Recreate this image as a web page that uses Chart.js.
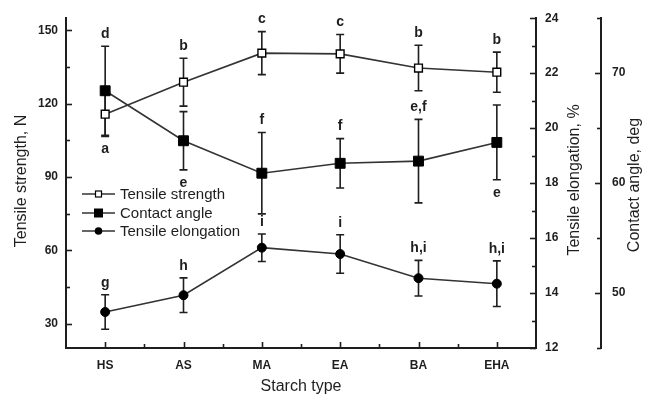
<!DOCTYPE html>
<html><head><meta charset="utf-8">
<script src="https://cdn.jsdelivr.net/npm/chart.js@4"></script>
<style>html,body{margin:0;padding:0;background:#fff}</style>
</head><body>
<canvas id="c" width="647" height="400" style="width:647px;height:400px;display:block"></canvas>
<script>
const categories = ['HS', 'AS', 'MA', 'EA', 'BA', 'EHA'];
const tensileStrength = [115.7, 128.8, 140.7, 140.4, 134.6, 132.9];
const tensileStrengthErr = [9.1, 9.8, 8.8, 7.9, 9.3, 8.2];
const contactAngle = [68.4, 63.85, 60.9, 61.8, 62.0, 63.7];
const contactAngleErr = [4.05, 2.65, 3.7, 2.25, 3.8, 3.4];
const tensileElongation = [13.31, 13.92, 15.65, 15.42, 14.54, 14.34];
const tensileElongationErr = [0.63, 0.63, 0.5, 0.7, 0.65, 0.83];
const tsLetters = ['a', 'b', 'c', 'c', 'b', 'b'];
const tsLetterSide = ['below', 'above', 'above', 'above', 'above', 'above'];
const caLetters = ['d', 'e', 'f', 'f', 'e,f', 'e'];
const caLetterSide = ['above', 'below', 'above', 'above', 'above', 'below'];
const teLetters = ['g', 'h', 'i', 'i', 'h,i', 'h,i'];
const teLetterSide = ['above', 'above', 'above', 'above', 'above', 'above'];
const strengthTicks = [30, 60, 90, 120, 150];
const strengthMinor = [45, 75, 105, 135];
const elongationTicks = [12, 14, 16, 18, 20, 22, 24];
const elongationMinor = [13, 15, 17, 19, 21, 23];
const angleTicks = [50, 60, 70];
const angleMinor = [45, 55, 65, 75];

const FONT = "'Liberation Sans', Arial, sans-serif";
const INK = '#1e1e1e';

const pts = arr => arr.map((v, i) => ({x: i, y: v}));

const errInfo = [
  {vals: tensileStrength, err: tensileStrengthErr, letters: tsLetters, side: tsLetterSide},
  {vals: contactAngle, err: contactAngleErr, letters: caLetters, side: caLetterSide},
  {vals: tensileElongation, err: tensileElongationErr, letters: teLetters, side: teLetterSide}
];

const extras = {
  id: 'extras',
  beforeDatasetsDraw(chart) {
    const ctx = chart.ctx;
    const xs = chart.scales.x;
    ctx.save();
    ctx.strokeStyle = INK;
    ctx.lineWidth = 1.6;
    chart.data.datasets.forEach((ds, di) => {
      const ys = chart.scales[ds.yAxisID];
      const info = errInfo[di];
      info.vals.forEach((v, i) => {
        const x = xs.getPixelForValue(i);
        const yt = ys.getPixelForValue(v + info.err[i]);
        const yb = ys.getPixelForValue(v - info.err[i]);
        ctx.beginPath();
        ctx.moveTo(x, yt); ctx.lineTo(x, yb);
        ctx.moveTo(x - 4, yt); ctx.lineTo(x + 4, yt);
        ctx.moveTo(x - 4, yb); ctx.lineTo(x + 4, yb);
        ctx.stroke();
      });
    });
    ctx.restore();
  },
  afterDatasetsDraw(chart) {
    const ctx = chart.ctx;
    const xs = chart.scales.x;
    const area = chart.chartArea;
    ctx.save();
    // letters
    ctx.fillStyle = INK;
    ctx.font = 'bold 14px ' + FONT;
    ctx.textAlign = 'center';
    ctx.textBaseline = 'middle';
    chart.data.datasets.forEach((ds, di) => {
      const ys = chart.scales[ds.yAxisID];
      const info = errInfo[di];
      info.vals.forEach((v, i) => {
        const x = xs.getPixelForValue(i);
        let y;
        if (info.side[i] === 'above') y = ys.getPixelForValue(v + info.err[i]) - 12;
        else y = ys.getPixelForValue(v - info.err[i]) + 13;
        ctx.fillText(info.letters[i], x, y);
      });
    });
    // tick marks (inward)
    ctx.strokeStyle = INK;
    ctx.lineWidth = 1.6;
    const yl = chart.scales.y, y1 = chart.scales.y1, y2 = chart.scales.y2;
    const hTick = (sc, xEdge, dir, vals, len) => {
      vals.forEach(v => {
        const y = Math.round(sc.getPixelForValue(v)) + 0.5;
        ctx.beginPath(); ctx.moveTo(xEdge, y); ctx.lineTo(xEdge + dir * len, y); ctx.stroke();
      });
    };
    hTick(yl, yl.right, 1, strengthTicks, 6);
    hTick(yl, yl.right, 1, strengthMinor, 4);
    hTick(y1, y1.left, -1, elongationTicks, 6);
    hTick(y1, y1.left, -1, elongationMinor, 4);
    hTick(y2, y2.left, -1, angleTicks, 6);
    hTick(y2, y2.left, -1, angleMinor, 4);
    categories.forEach((c, i) => {
      const x = Math.round(xs.getPixelForValue(i)) + 0.5;
      ctx.beginPath(); ctx.moveTo(x, xs.top); ctx.lineTo(x, xs.top - 6); ctx.stroke();
      if (i < categories.length - 1) {
        const xm = Math.round(xs.getPixelForValue(i + 0.5)) + 0.5;
        ctx.beginPath(); ctx.moveTo(xm, xs.top); ctx.lineTo(xm, xs.top - 4); ctx.stroke();
      }
    });
    // axis titles
    ctx.fillStyle = INK;
    ctx.font = '16px ' + FONT;
    ctx.textAlign = 'center';
    ctx.textBaseline = 'middle';
    ctx.fillText('Starch type', (area.left + area.right) / 2, 387);
    const vText = (t, x, y) => {
      ctx.save(); ctx.translate(x, y); ctx.rotate(-Math.PI / 2); ctx.fillText(t, 0, 0); ctx.restore();
    };
    vText('Tensile strength, N', 22, 181);
    vText('Tensile elongation, %', 575, 180);
    vText('Contact angle, deg', 635, 185);
    // legend
    const rows = [
      {label: chart.data.datasets[0].label, y: 194, kind: 'open'},
      {label: chart.data.datasets[1].label, y: 213, kind: 'filled'},
      {label: chart.data.datasets[2].label, y: 231, kind: 'circle'}
    ];
    ctx.font = '15px ' + FONT;
    ctx.textAlign = 'left';
    rows.forEach(r => {
      ctx.strokeStyle = '#333';
      ctx.lineWidth = 1.5;
      ctx.beginPath(); ctx.moveTo(82, r.y); ctx.lineTo(115, r.y); ctx.stroke();
      const cx = 98.5;
      if (r.kind === 'open') {
        ctx.fillStyle = '#fff'; ctx.fillRect(cx - 3, r.y - 3, 6, 6);
        ctx.strokeStyle = '#000'; ctx.lineWidth = 1.2; ctx.strokeRect(cx - 3, r.y - 3, 6, 6);
      } else if (r.kind === 'filled') {
        ctx.fillStyle = '#000'; ctx.fillRect(cx - 4.5, r.y - 4.5, 9, 9);
      } else {
        ctx.fillStyle = '#000'; ctx.beginPath(); ctx.arc(cx, r.y, 3.8, 0, Math.PI * 2); ctx.fill();
      }
      ctx.fillStyle = INK;
      ctx.fillText(r.label, 120, r.y + 1);
    });
    ctx.restore();
  }
};

const axisBase = (min, max, pos, ticksArr, width, pad, size, weight) => ({
  type: 'linear', position: pos, min, max, weight,
  grid: {display: false, drawTicks: false},
  border: {display: true, color: INK, width: 2},
  title: {display: false},
  ticks: {padding: pad, color: INK, font: {family: FONT, size, weight: 'bold'}},
  afterBuildTicks: s => { s.ticks = ticksArr.map(v => ({value: v})); },
  afterFit: s => { s.width = width; }
});

new Chart(document.getElementById('c'), {
  type: 'line',
  data: {
    datasets: [
      {label: 'Tensile strength', yAxisID: 'y', data: pts(tensileStrength),
       borderColor: '#333', borderWidth: 1.6, pointStyle: 'rect', pointRadius: 5.5,
       pointBackgroundColor: '#fff', pointBorderColor: '#000', pointBorderWidth: 1.4, tension: 0},
      {label: 'Contact angle', yAxisID: 'y2', data: pts(contactAngle),
       borderColor: '#333', borderWidth: 1.6, pointStyle: 'rect', pointRadius: 7,
       pointBackgroundColor: '#000', pointBorderColor: '#000', pointBorderWidth: 1, tension: 0},
      {label: 'Tensile elongation', yAxisID: 'y1', data: pts(tensileElongation),
       borderColor: '#333', borderWidth: 1.6, pointStyle: 'circle', pointRadius: 4.5,
       pointBackgroundColor: '#000', pointBorderColor: '#000', pointBorderWidth: 1, tension: 0}
    ]
  },
  options: {
    responsive: false, animation: false, devicePixelRatio: 1,
    layout: {padding: {top: 15, left: 0, right: 0, bottom: 0}},
    plugins: {legend: {display: false}, tooltip: {enabled: false}},
    scales: {
      x: {type: 'linear', position: 'bottom', min: -0.5, max: 5.5,
          grid: {display: false, drawTicks: false},
          border: {display: true, color: INK, width: 2},
          ticks: {padding: 10, color: INK, font: {family: FONT, size: 12, weight: 'bold'},
                  callback: v => categories[v] !== undefined ? categories[v] : ''},
          afterBuildTicks: s => { s.ticks = categories.map((c, i) => ({value: i})); },
          afterFit: s => { s.height = 52; }},
      y: axisBase(20, 155, 'left', strengthTicks, 66, 8, 12, 0),
      y1: axisBase(12, 24, 'right', elongationTicks, 65, 9, 12, 0),
      y2: axisBase(45, 75, 'right', angleTicks, 46, 11, 12, 1)
    }
  },
  plugins: [extras]
});
</script>
</body></html>
